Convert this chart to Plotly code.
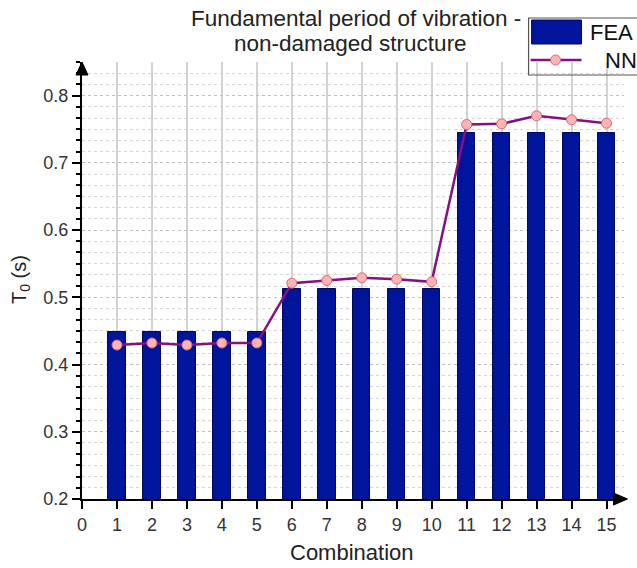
import plotly.graph_objects as go

# Data
combination = list(range(1, 16))
fea = [0.448, 0.448, 0.448, 0.448, 0.448,
       0.513, 0.513, 0.513, 0.513, 0.513,
       0.744, 0.744, 0.744, 0.744, 0.744]
nn = [0.429, 0.432, 0.429, 0.432, 0.432,
      0.521, 0.525, 0.529, 0.527, 0.523,
      0.757, 0.758, 0.770, 0.764, 0.759]
title_lines = ["Fundamental period of vibration -", "non-damaged structure"]

W, H = 637, 568
L, R, T, B = 82, 12.5, 62, 69
FONT = "Arial, Liberation Sans, sans-serif"


def px(x):
    """pixel x -> paper x"""
    return (x - L) / (W - L - R)


def py(y):
    """pixel y -> paper y"""
    return (H - B - y) / (H - T - B)


fig = go.Figure()

fig.add_trace(go.Bar(
    x=combination, y=fea, width=0.5, name="FEA",
    marker=dict(color="#00149c", line=dict(color="#000a5a", width=1)),
))

fig.add_trace(go.Scatter(
    x=combination, y=nn, mode="lines+markers", name="NN",
    line=dict(color="#86107c", width=2.5),
    marker=dict(size=10, color="#ffb4b4", line=dict(color="#d26a80", width=1)),
))

shapes = [
    # arrowheads at the axis ends
    dict(type="path", xref="paper", yref="paper", layer="above",
         path=f"M {px(76)} {py(75)} L {px(82)} {py(62)} L {px(88)} {py(75)} Z",
         fillcolor="black", line=dict(color="black", width=1)),
    dict(type="path", xref="paper", yref="paper", layer="above",
         path=f"M {px(614)} {py(493)} L {px(628)} {py(499)} L {px(614)} {py(505)} Z",
         fillcolor="black", line=dict(color="black", width=1)),
    # legend frame
    dict(type="rect", xref="paper", yref="paper", layer="above",
         x0=px(529), x1=px(650), y0=py(75), y1=py(18),
         line=dict(color="#555555", width=1.2), fillcolor="rgba(0,0,0,0)"),
    # legend swatch for FEA
    dict(type="rect", xref="paper", yref="paper", layer="above",
         x0=px(532), x1=px(582), y0=py(44), y1=py(20),
         fillcolor="#00149c", line=dict(color="#000a5a", width=1)),
    # legend line for NN
    dict(type="line", xref="paper", yref="paper", layer="above",
         x0=px(531), x1=px(582), y0=py(60), y1=py(60),
         line=dict(color="#86107c", width=2.5)),
    dict(type="circle", xref="paper", yref="paper", layer="above",
         x0=px(551), x1=px(561), y0=py(65), y1=py(55),
         fillcolor="#ffb4b4", line=dict(color="#d26a80", width=1)),
]

annotations = [
    dict(text=title_lines[0], xref="paper", yref="paper", x=px(356), y=py(18),
         xanchor="center", yanchor="middle", showarrow=False,
         font=dict(family=FONT, size=22.5, color="#222222")),
    dict(text=title_lines[1], xref="paper", yref="paper", x=px(351), y=py(44),
         xanchor="center", yanchor="middle", showarrow=False,
         font=dict(family=FONT, size=22.5, color="#222222")),
    dict(text="FEA", xref="paper", yref="paper", x=px(588), y=py(32),
         xanchor="left", yanchor="middle", showarrow=False,
         font=dict(family=FONT, size=22, color="#111111")),
    dict(text="NN", xref="paper", yref="paper", x=px(603), y=py(60),
         xanchor="left", yanchor="middle", showarrow=False,
         font=dict(family=FONT, size=22, color="#111111")),
    dict(text="Combination", xref="paper", yref="paper", x=px(352), y=py(552),
         xanchor="center", yanchor="middle", showarrow=False,
         font=dict(family=FONT, size=22, color="#222222")),
    dict(text="T<sub>0</sub> (s)", xref="paper", yref="paper", x=px(20), y=py(280),
         xanchor="center", yanchor="middle", showarrow=False, textangle=-90,
         font=dict(family=FONT, size=20, color="#222222")),
]

fig.update_layout(
    width=W, height=H,
    margin=dict(l=L, r=R, t=T, b=B, autoexpand=False),
    paper_bgcolor="white", plot_bgcolor="white",
    showlegend=False,
    bargap=0,
    font=dict(family=FONT, color="#333333"),
    shapes=shapes,
    annotations=annotations,
)

fig.update_xaxes(
    range=[0, 15.5], tick0=0, dtick=1,
    showline=True, linecolor="black", linewidth=2,
    ticks="outside", ticklen=8, tickwidth=2, tickcolor="black",
    showgrid=True, gridcolor="#d2d2d2", gridwidth=1.5,
    zeroline=False,
    tickfont=dict(family=FONT, size=18, color="#333333"),
)

fig.update_yaxes(
    range=[0.2, 0.85], tick0=0, dtick=0.1, tickformat=".1f",
    showline=True, linecolor="black", linewidth=2,
    ticks="outside", ticklen=8, tickwidth=2, tickcolor="black",
    showgrid=True, gridcolor="#c0c0c0", gridwidth=1, griddash="dot",
    zeroline=False,
    minor=dict(dtick=0.1 / 6, tick0=0, ticks="outside", ticklen=4,
               tickwidth=2, tickcolor="black",
               showgrid=True, gridcolor="#d6d6d6", gridwidth=1, griddash="dot"),
    tickfont=dict(family=FONT, size=18, color="#333333"),
)

fig.write_html("out.html")
